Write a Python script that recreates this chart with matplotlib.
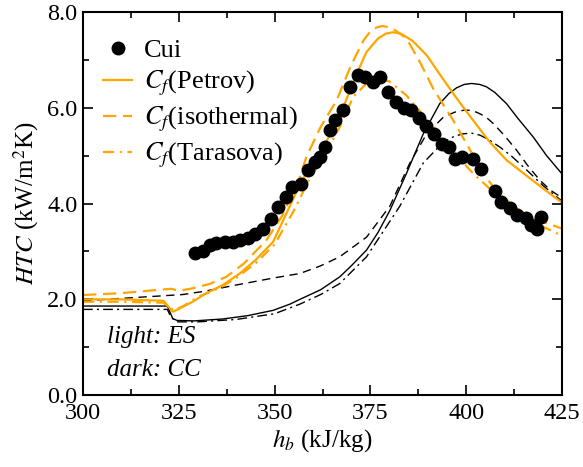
import matplotlib
matplotlib.use("Agg")
import matplotlib.pyplot as plt
from matplotlib.ticker import MultipleLocator, FormatStrFormatter

plt.rcParams['font.family'] = ['Liberation Serif', 'DejaVu Serif']
plt.rcParams['mathtext.fontset'] = 'stix'

# Experimental data (Cui)
cui_h = [329.2, 331.3, 333.1, 334.8, 337.0, 339.2, 340.9, 343.1, 345.0, 347.0, 349.0, 351.0,
         353.1, 354.6, 357.0, 358.7, 360.5, 361.8, 363.1, 364.4, 365.7, 367.9, 369.6, 371.8,
         373.5, 375.7, 377.6, 379.6, 381.8, 383.7, 385.6, 387.6, 389.5, 391.6, 393.6, 395.5,
         397.0, 398.8, 401.8, 403.8, 407.5, 409.2, 411.4, 413.3, 415.6, 416.8, 418.4, 419.4]
cui_htc = [2.97, 3.01, 3.13, 3.18, 3.20, 3.20, 3.24, 3.28, 3.36, 3.48, 3.67, 3.92,
           4.13, 4.34, 4.42, 4.70, 4.87, 4.98, 5.18, 5.53, 5.74, 5.95, 6.44, 6.68,
           6.65, 6.54, 6.65, 6.33, 6.12, 5.99, 5.95, 5.78, 5.62, 5.46, 5.25, 5.18,
           4.94, 4.98, 4.94, 4.72, 4.26, 4.04, 3.90, 3.76, 3.69, 3.55, 3.48, 3.71]

# ES (light, orange) curves
es_petrov_h = [300, 310, 321, 323.4, 324.5, 328.6, 332, 336.5, 340.9, 345, 349.6, 353.1, 356.6,
               359.2, 362, 366.2, 371.4, 374, 377, 379, 380.9, 383, 386, 389.7, 393.1, 397.5,
               401.8, 406, 410.5, 415, 420, 425]
es_petrov = [2.0, 2.0, 1.97, 1.74, 1.78, 1.95, 2.12, 2.3, 2.54, 2.82, 3.2, 3.8, 4.4,
             4.75, 5.1, 5.67, 6.71, 7.17, 7.45, 7.55, 7.58, 7.55, 7.4, 7.1, 6.7, 6.2,
             5.74, 5.3, 4.91, 4.63, 4.32, 4.02]

es_iso_h = [300, 310, 320, 323, 325, 328, 333, 337.4, 342, 347.9, 352, 356.6, 358.3, 362,
            366.2, 370, 373.2, 375, 376.6, 378.1, 379.6, 381, 384.4, 387.9, 391.4, 396.6,
            400.1, 404.4, 407.1, 410, 415, 420, 425]
es_iso = [2.09, 2.13, 2.2, 2.22, 2.18, 2.22, 2.32, 2.47, 2.75, 3.24, 3.75, 4.56, 4.98, 5.6,
          6.16, 6.9, 7.41, 7.6, 7.68, 7.71, 7.69, 7.65, 7.45, 6.96, 6.4, 5.74,
          5.25, 4.63, 4.35, 4.1, 3.8, 3.62, 3.48]

es_tara_h = [300, 310, 321, 323.5, 326, 330, 336, 340, 345, 350, 355, 359, 363.6, 367,
             370.5, 374, 377.5, 380, 384.4, 388.8, 393.7, 397, 401.8, 407.1, 410.5, 415,
             419.2, 425]
es_tara = [1.95, 1.95, 1.93, 1.78, 1.85, 2.05, 2.25, 2.45, 2.75, 3.15, 3.85, 4.5, 5.11, 5.6,
           6.23, 6.51, 6.61, 6.55, 6.26, 5.85, 5.4, 5.05, 4.63, 4.24, 4.0, 3.75,
           3.55, 3.33]

# CC (dark, black) curves
cc_petrov_h = [300, 322, 323.4, 324.5, 329, 336.5, 343, 349.6, 354, 356.6, 362, 367, 370,
               374, 377, 380.1, 384.4, 388.8, 393.1, 395.5, 397.5, 399.5, 401.4, 403.5,
               405.3, 407.5, 410.5, 413.5, 417.5, 421, 425]
cc_petrov = [1.86, 1.86, 1.6, 1.56, 1.55, 1.59, 1.66, 1.77, 1.9, 2.0, 2.2, 2.47, 2.7,
             3.03, 3.4, 3.86, 4.63, 5.46, 6.09, 6.3, 6.42, 6.49, 6.51, 6.49,
             6.44, 6.32, 6.09, 5.78, 5.39, 5.0, 4.62]

cc_iso_h = [300, 326, 331.8, 340, 350, 356.6, 362, 367, 374, 380.1, 385.3, 389.7, 394.1,
            397, 399.3, 401, 402.7, 405, 407.1, 410, 413.2, 416, 419.2, 422, 425]
cc_iso = [1.97, 2.1, 2.17, 2.3, 2.45, 2.54, 2.7, 2.89, 3.3, 3.95, 4.85, 5.46, 5.81,
          5.91, 5.95, 5.95, 5.91, 5.82, 5.67, 5.42, 5.11, 4.8, 4.49, 4.28, 4.12]

cc_tara_h = [300, 322, 323, 324.5, 330, 340, 350, 356.6, 362, 367, 374, 382.7, 388.8, 394.1,
             397, 399.3, 401.5, 403.6, 406, 408.8, 412, 415.8, 420, 425]
cc_tara = [1.79, 1.79, 1.62, 1.53, 1.53, 1.58, 1.7, 1.9, 2.1, 2.33, 2.89, 3.95, 4.85, 5.29,
           5.41, 5.46, 5.47, 5.43, 5.33, 5.18, 4.98, 4.7, 4.38, 4.05]

orange = '#FFA500'

fig = plt.figure(figsize=(5.83, 4.67), dpi=100)
ax = fig.add_axes([0.1424, 0.154, 0.8216, 0.820])

ax.plot(cc_petrov_h, cc_petrov, color='black', lw=1.0)
ax.plot(cc_iso_h, cc_iso, color='black', lw=1.0, dashes=(6, 4))
ax.plot(cc_tara_h, cc_tara, color='black', lw=1.0, dashes=(7, 3, 1.5, 3))

l1, = ax.plot(es_petrov_h, es_petrov, color=orange, lw=1.6)
l2, = ax.plot(es_iso_h, es_iso, color=orange, lw=1.6, dashes=(6, 3))
l3, = ax.plot(es_tara_h, es_tara, color=orange, lw=1.6, dashes=(5, 2.5, 1, 2.5))
l0, = ax.plot(cui_h, cui_htc, 'o', color='black', ms=9, ls='none')

ax.set_xlim(300, 425)
ax.set_ylim(0, 8)
ax.xaxis.set_major_locator(MultipleLocator(25))
ax.xaxis.set_minor_locator(MultipleLocator(12.5))
ax.yaxis.set_major_locator(MultipleLocator(2))
ax.yaxis.set_minor_locator(MultipleLocator(1))
ax.yaxis.set_major_formatter(FormatStrFormatter('%.1f'))
ax.tick_params(which='both', direction='in', top=True, right=True, labelsize=17.5, width=1.2)
ax.tick_params(which='major', length=7)
ax.tick_params(axis='x', which='major', pad=6)
ax.tick_params(axis='y', which='major', pad=4)
ax.tick_params(which='minor', length=4)
for s in ax.spines.values():
    s.set_linewidth(1.5)

ax.set_xlabel('$h_b$ (kJ/kg)', fontsize=18)
ax.set_ylabel('$HTC$ (kW/m$^2$K)', fontsize=18)
ax.xaxis.set_label_coords(0.5, -0.085)
ax.yaxis.set_label_coords(-0.088, 0.5)

leg = ax.legend([l0, l1, l2, l3],
                ['Cui', '$C_f$(Petrov)', '$C_f$(isothermal)', '$C_f$(Tarasova)'],
                loc='upper left', bbox_to_anchor=(0.042, 0.93), frameon=False,
                fontsize=19, handlelength=1.1, handletextpad=0.45, labelspacing=0.25,
                borderpad=0, borderaxespad=0)

ax.text(0.05, 0.135, 'light: ES', transform=ax.transAxes, fontsize=18, style='italic')
ax.text(0.05, 0.05, 'dark: CC', transform=ax.transAxes, fontsize=18, style='italic')

fig.savefig('out.png', dpi=100)
